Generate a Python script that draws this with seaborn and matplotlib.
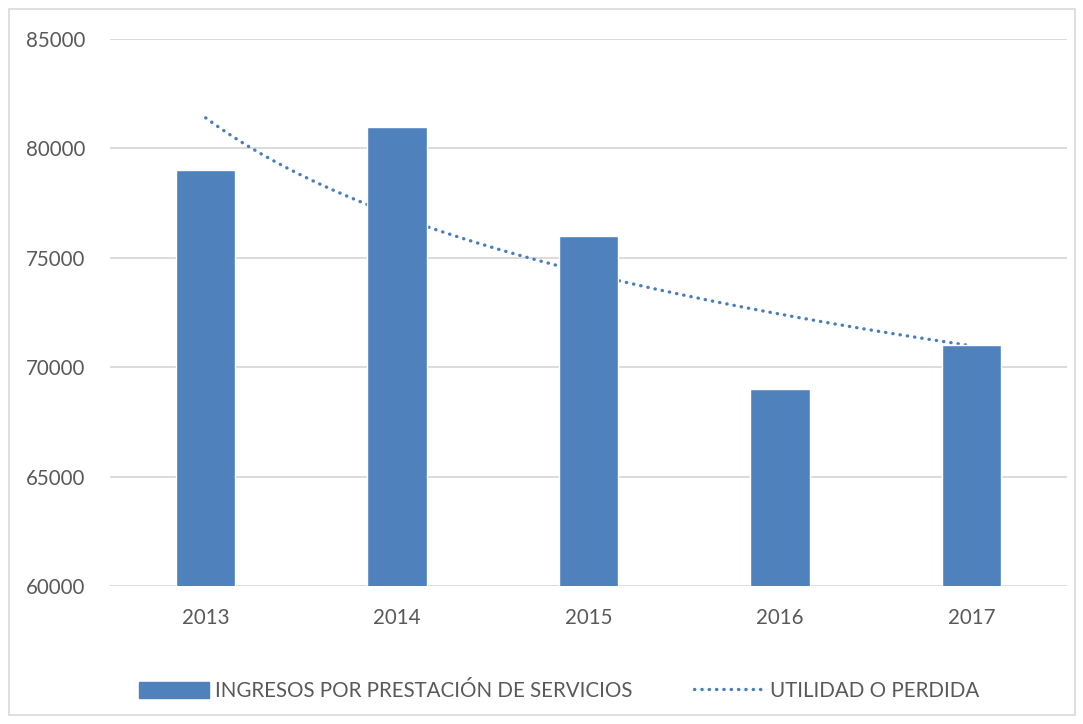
import matplotlib
matplotlib.use('Agg')
import matplotlib.pyplot as plt
import numpy as np
import pandas as pd
import seaborn as sns
from matplotlib.patches import Rectangle
from matplotlib.lines import Line2D

sns.set_theme(style='white')
plt.rcParams['font.family'] = ['Lato', 'DejaVu Sans']

# data
years = ['2013', '2014', '2015', '2016', '2017']
ingresos = [79000, 81000, 76000, 69000, 71000]
yticks = [60000, 65000, 70000, 75000, 80000, 85000]

bar_color = '#4f81bd'
text_color = '#595959'
grid_color = '#d9d9d9'

df = pd.DataFrame({'anio': years, 'ingresos': ingresos})

fig = plt.figure(figsize=(10.83, 7.24), dpi=100)
ax = fig.add_axes([110 / 1083, 1 - 586 / 724, (1067 - 110) / 1083, (586 - 39) / 724])

sns.barplot(data=df, x='anio', y='ingresos', color=bar_color, width=0.31,
            saturation=1, ax=ax, zorder=3)

# logarithmic trendline (excel style) of the bar series
idx = np.arange(1, len(years) + 1)
b, a = np.polyfit(np.log(idx), ingresos, 1)
xs = np.linspace(1, len(years), 200)
trend = pd.DataFrame({'x': xs - 1, 'y': a + b * np.log(xs)})
sns.lineplot(data=trend, x='x', y='y', ax=ax, color='#4a7ebb', lw=2.4,
             linestyle=(0, (0.1, 2.1)), dash_capstyle='round', zorder=2)

ax.set_ylim(60000, 85000)
ax.set_xlim(-0.5, len(years) - 0.5)
ax.set_yticks(yticks)
ax.set_yticklabels([str(v) for v in yticks])
ax.yaxis.grid(True, color=grid_color, lw=1.3, zorder=0)
ax.set_axisbelow(True)
ax.set_xlabel('')
ax.set_ylabel('')
ax.tick_params(axis='both', length=0, labelsize=14.8, labelcolor=text_color)
ax.tick_params(axis='y', pad=18)
ax.tick_params(axis='x', pad=16)
sns.despine(ax=ax, left=True, bottom=True, top=True, right=True)

handles = [Rectangle((0, 0), 1, 1, color=bar_color),
           Line2D([0], [0], color='#4a7ebb', lw=2.4, linestyle=(0, (0.1, 2.1)),
                  dash_capstyle='round')]
fig.legend(handles, ['INGRESOS POR PRESTACIÓN DE SERVICIOS', 'UTILIDAD O PERDIDA'],
           loc='center', bbox_to_anchor=(0.516, 1 - 691 / 724), ncol=2, frameon=False,
           fontsize=14.8, labelcolor=text_color, handlelength=3.4, handleheight=0.8,
           handletextpad=0.3, columnspacing=3.0)

fig.patches.append(Rectangle((9 / 1083, 1 - 715 / 724), 1066 / 1083, 706 / 724,
                             transform=fig.transFigure, fill=False,
                             edgecolor=grid_color, lw=1.2))

fig.savefig('out.png', dpi=100)
